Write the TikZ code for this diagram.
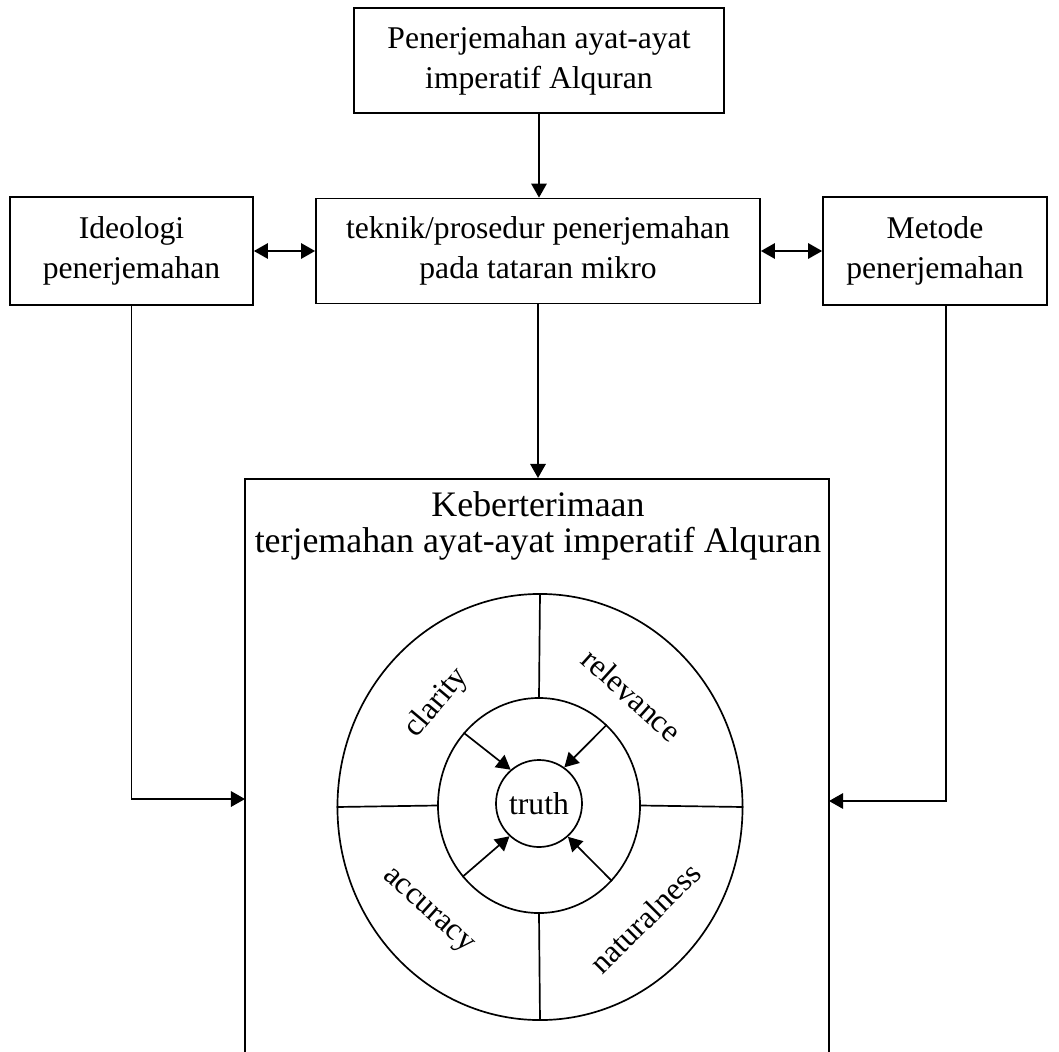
\documentclass[tikz,border=0pt]{standalone}
\usepackage{fontspec}
\setmainfont{Liberation Serif}
\usetikzlibrary{positioning,calc,shapes.geometric,arrows.meta}
\tikzset{%
  every box/.style={
    rectangle,
    draw,
    align=center,
    inner sep=0pt
  },
  every ring/.style={
    ellipse,
    draw,
    inner sep=0pt
  },
  quality/.style={
    inner sep=0pt
  },
  accept title/.style={
    font=\fontsize{25.5}{30}\selectfont
  },
}

\begin{document}
\begin{tikzpicture}[x=0.025cm, y=-0.025cm, line width=1.2pt, >={Triangle[length=10pt,width=11pt]}, font=\fontsize{22.5}{28.5}\selectfont]
        \clip (0,0) rectangle (1059,1052);
        % boxes
        \node [every box, minimum width=9.25cm, minimum height=2.625cm] (source) at (539,60.5) {Penerjemahan ayat-ayat\\imperatif Alquran};
        \node [every box, minimum width=11.1cm, minimum height=2.625cm] (technique) at (538,251) {teknik/prosedur penerjemahan\\pada tataran mikro};
        \node [every box, minimum width=6.075cm, minimum height=2.7cm] (ideology) at (131.5,251) {Ideologi\\penerjemahan};
        \node [every box, minimum width=5.6cm, minimum height=2.7cm] (method) at (935,251) {Metode\\penerjemahan};
        \node [every box, minimum width=14.6cm, minimum height=15.55cm, anchor=north] (accept) at (537,478) {};
        \node [accept title] (accept-title) at (538,504) {Keberterimaan};
        \node [accept title] (accept-subtitle) at (538,544) {terjemahan ayat-ayat imperatif Alquran};

        % rings
        \node [every ring, minimum width=10.125cm, minimum height=10.65cm] (outer) at (540,807) {};
        \node [every ring, minimum width=5.05cm, minimum height=5.375cm] (inner) at (539,805.5) {};
        \node [every ring, minimum width=2.15cm, minimum height=2.175cm] (truth) at (539,803.5) {truth};
        \foreach \a in {north,south,east,west}
          \draw (outer.\a) -- (inner.\a);
        \foreach \s/\e in {136/130,50/55,223/228,314/311}
          \draw [->] (inner.\s) -- (truth.\e);
        \foreach \t/\x/\y/\r in {clarity/437/703/50,relevance/632/695/-42,accuracy/427/912/-42,naturalness/645/918/45}
          \node [quality, rotate=\r] (\t) at (\x,\y) {\t};

        % connectors
        \coordinate (ideology-end) at (245,799);
        \coordinate (method-end) at (829,801);
        \draw [->] (source.south) -- (source.south |- technique.north);
        \draw [<->] (ideology) -- (technique);
        \draw [<->] (technique) -- (method);
        \draw [->] (technique.south) -- (technique.south |- accept.north);
        \draw [->] (ideology.south) |- (ideology-end);
        \draw [->] ([xshift=0.275cm]method.south) |- (method-end);
\end{tikzpicture}
\end{document}
